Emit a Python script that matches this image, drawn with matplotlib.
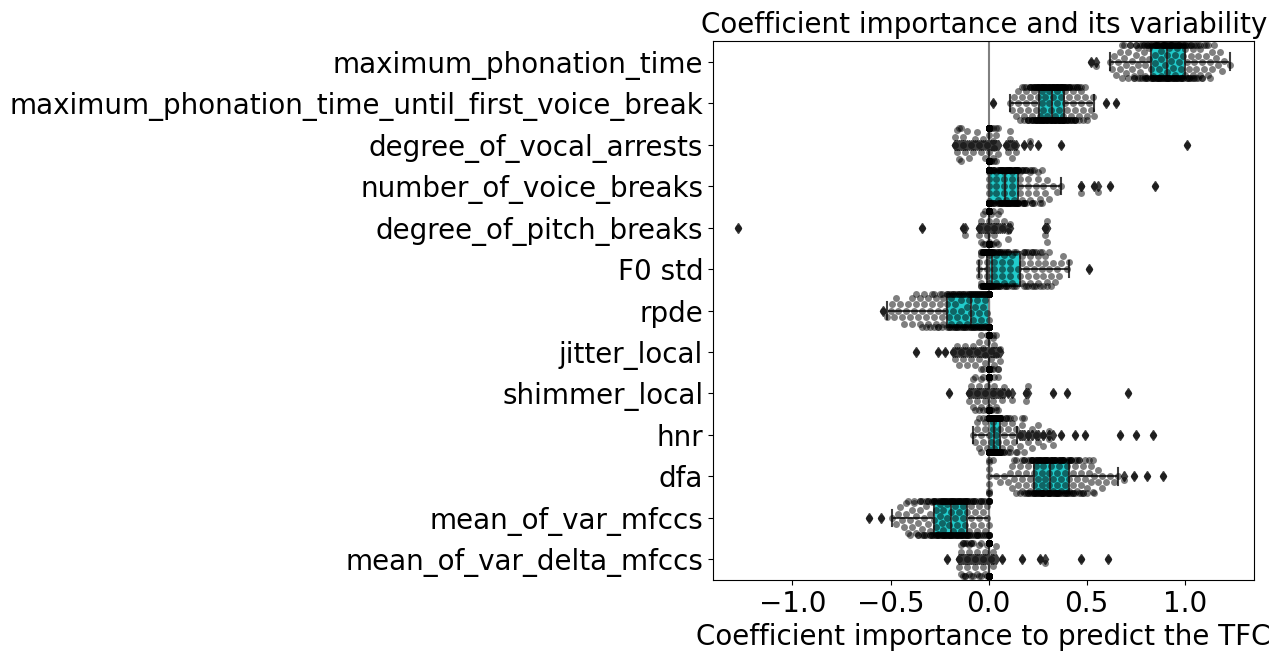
import warnings
import numpy as np
import pandas as pd
import matplotlib
matplotlib.use("Agg")
import matplotlib.pyplot as plt
import seaborn as sns

warnings.filterwarnings("ignore")

features = [
    "maximum_phonation_time",
    "maximum_phonation_time_until_first_voice_break",
    "degree_of_vocal_arrests",
    "number_of_voice_breaks",
    "degree_of_pitch_breaks",
    "F0 std",
    "rpde",
    "jitter_local",
    "shimmer_local",
    "hnr",
    "dfa",
    "mean_of_var_mfccs",
    "mean_of_var_delta_mfccs",
]

# coefficient values over the CV folds, as (value, number of folds)
mpt_vals = [0.52, 0.55, 0.62, 0.63, 0.64, 0.65, 0.66, 0.67, 0.68, 0.69, 0.70, 0.71,
            0.72, 0.73, 0.74, 0.75, 0.76, 0.77, 0.78, 0.79, 0.80, 0.81, 0.82, 0.83,
            0.84, 0.85, 0.86, 0.87, 0.88, 0.89, 0.90, 0.91, 0.92, 0.93, 0.94, 0.95,
            0.96, 0.97, 0.98, 0.99, 1.00, 1.01, 1.02, 1.03, 1.04, 1.05, 1.06, 1.07,
            1.08, 1.09, 1.10, 1.11, 1.12, 1.13, 1.14, 1.15, 1.16, 1.17, 1.18, 1.19,
            1.20, 1.23]
mpt_counts = [1, 1, 1, 1, 1, 1, 1, 2, 2, 2, 2, 2,
              2, 2, 3, 3, 3, 3, 3, 3, 4, 4, 3, 5,
              5, 6, 6, 6, 6, 6, 6, 8, 6, 6, 6, 6,
              6, 5, 5, 5, 4, 4, 4, 4, 3, 3, 3, 3,
              3, 3, 2, 2, 2, 2, 2, 1, 1, 1, 1, 1,
              1, 1]

mptb_vals = [0.02, 0.11, 0.12, 0.13, 0.14, 0.15, 0.16, 0.17, 0.18, 0.19, 0.20, 0.21,
             0.22, 0.23, 0.24, 0.25, 0.26, 0.27, 0.28, 0.29, 0.30, 0.31, 0.32, 0.33,
             0.34, 0.35, 0.36, 0.37, 0.38, 0.39, 0.40, 0.41, 0.42, 0.43, 0.44, 0.45,
             0.46, 0.47, 0.48, 0.49, 0.50, 0.51, 0.52, 0.53, 0.54, 0.60, 0.65]
mptb_counts = [1, 1, 1, 1, 1, 2, 2, 2, 3, 3, 4, 4,
               5, 6, 7, 7, 7, 7, 7, 7, 7, 7, 8, 8,
               8, 8, 8, 8, 10, 6, 5, 5, 4, 4, 5, 3,
               3, 3, 2, 2, 2, 1, 1, 1, 1, 1, 1]

arrests_vals = [-0.17, -0.16, -0.15, -0.14, -0.13, -0.12, -0.11, -0.10, -0.09, -0.08,
                -0.07, -0.06, -0.05, -0.04, -0.03, -0.02, -0.01, 0.0, 0.01, 0.02,
                0.03, 0.04, 0.05, 0.09, 0.10, 0.11, 0.12, 0.13, 0.14, 0.18, 0.21,
                0.25, 0.37, 1.01]
arrests_counts = [2, 2, 2, 2, 2, 1, 1, 1, 1, 1,
                  1, 1, 1, 1, 1, 1, 1, 153, 3, 3,
                  2, 3, 2, 1, 1, 2, 1, 1, 1, 1, 1,
                  1, 1, 1]

vbreaks_vals = [0.0, 0.01, 0.02, 0.03, 0.04, 0.05, 0.06, 0.07, 0.08, 0.09, 0.10,
                0.11, 0.12, 0.13, 0.14, 0.15, 0.16, 0.17, 0.18, 0.19, 0.20, 0.21,
                0.22, 0.23, 0.24, 0.25, 0.26, 0.27, 0.28, 0.29, 0.30, 0.31, 0.33,
                0.35, 0.37, 0.47, 0.54, 0.56, 0.62, 0.85]
vbreaks_counts = [60, 3, 3, 4, 4, 5, 6, 7, 8, 8, 8,
                  8, 7, 7, 7, 8, 4, 4, 4, 3, 3, 3,
                  3, 2, 2, 2, 2, 2, 1, 1, 1, 1, 1,
                  1, 1, 2, 1, 1, 1, 1]

pitch_vals = [-1.28, -0.34, -0.13, -0.12, -0.05, -0.04, -0.03, -0.02, -0.01, 0.0,
              0.01, 0.02, 0.03, 0.04, 0.05, 0.06, 0.07, 0.08, 0.10, 0.11, 0.29, 0.30]
pitch_counts = [1, 1, 1, 1, 2, 2, 2, 2, 2, 166,
                2, 2, 2, 2, 2, 1, 1, 1, 2, 1, 2, 2]

f0_vals = [-0.05, -0.04, -0.03, -0.02, -0.01, 0.0, 0.01, 0.02, 0.03, 0.04, 0.05,
           0.06, 0.07, 0.08, 0.09, 0.10, 0.11, 0.12, 0.13, 0.14, 0.15, 0.16, 0.17,
           0.18, 0.19, 0.20, 0.21, 0.22, 0.23, 0.24, 0.25, 0.26, 0.27, 0.28, 0.29,
           0.30, 0.31, 0.32, 0.33, 0.34, 0.35, 0.36, 0.37, 0.38, 0.40, 0.41, 0.51]
f0_counts = [3, 6, 10, 14, 21, 38, 8, 6, 5, 5, 4,
             4, 4, 4, 3, 3, 3, 3, 2, 2, 1, 1, 3,
             3, 3, 3, 3, 3, 3, 3, 3, 2, 2, 2, 2,
             2, 2, 2, 1, 1, 1, 1, 1, 1, 1, 1, 1]

rpde_vals = [-0.54, -0.52, -0.50, -0.49, -0.48, -0.47, -0.46, -0.45, -0.44, -0.43,
             -0.42, -0.41, -0.40, -0.39, -0.38, -0.37, -0.36, -0.35, -0.34, -0.33,
             -0.32, -0.31, -0.30, -0.29, -0.28, -0.27, -0.26, -0.25, -0.24, -0.23,
             -0.22, -0.21, -0.20, -0.19, -0.18, -0.17, -0.16, -0.15, -0.14, -0.13,
             -0.12, -0.11, -0.10, -0.09, -0.08, -0.07, -0.06, -0.05, -0.04, -0.03,
             -0.02, -0.01, 0.0]
rpde_counts = [1, 1, 1, 1, 1, 1, 1, 1, 1, 1,
               1, 1, 1, 2, 1, 2, 1, 2, 2, 2,
               2, 2, 2, 2, 3, 2, 3, 2, 3, 2,
               1, 4, 4, 4, 4, 4, 4, 4, 4, 4,
               4, 4, 4, 5, 5, 5, 5, 5, 5, 5,
               5, 5, 58]

jitter_vals = [-0.37, -0.26, -0.22, -0.18, -0.17, -0.16, -0.15, -0.14, -0.13, -0.12,
               -0.11, -0.10, -0.09, -0.08, -0.07, -0.06, -0.05, -0.04, -0.03, -0.02,
               -0.01, 0.0, 0.01, 0.02, 0.03, 0.04, 0.05, 0.06]
jitter_counts = [1, 1, 1, 1, 1, 1, 1, 1, 1, 1,
                 1, 1, 1, 1, 1, 1, 2, 2, 2, 2,
                 2, 160, 3, 3, 2, 2, 2, 2]

shimmer_vals = [-0.20, -0.10, -0.09, -0.08, -0.07, -0.06, -0.05, -0.04, -0.03, -0.02,
                -0.01, 0.0, 0.01, 0.02, 0.03, 0.04, 0.05, 0.06, 0.07, 0.08, 0.10,
                0.12, 0.19, 0.20, 0.33, 0.40, 0.71]
shimmer_counts = [1, 2, 1, 2, 2, 2, 2, 2, 2, 2,
                  2, 160, 2, 2, 2, 2, 2, 1, 1, 1, 1,
                  1, 2, 1, 1, 1, 1]

hnr_vals = [-0.08, -0.07, -0.06, -0.05, -0.04, -0.03, -0.02, -0.01, 0.0, 0.01, 0.02,
            0.03, 0.04, 0.05, 0.06, 0.07, 0.08, 0.09, 0.10, 0.11, 0.12, 0.13, 0.14,
            0.145, 0.16, 0.17, 0.18, 0.20, 0.22, 0.24, 0.25, 0.28, 0.31, 0.33, 0.37,
            0.44, 0.49, 0.67, 0.75, 0.84]
hnr_counts = [1, 1, 2, 2, 2, 2, 2, 2, 46, 10, 14,
              22, 16, 16, 15, 3, 4, 3, 3, 3, 2, 2, 2,
              1, 2, 2, 2, 2, 2, 1, 2, 2, 2, 1, 1,
              1, 1, 1, 1, 1]

dfa_vals = [0.0, 0.02, 0.04, 0.06, 0.08, 0.10, 0.11, 0.12, 0.13, 0.14, 0.15, 0.16,
            0.17, 0.18, 0.19, 0.20, 0.21, 0.22, 0.23, 0.24, 0.25, 0.26, 0.27, 0.28,
            0.29, 0.30, 0.31, 0.32, 0.33, 0.34, 0.35, 0.36, 0.37, 0.38, 0.39, 0.40,
            0.41, 0.42, 0.43, 0.44, 0.45, 0.46, 0.47, 0.48, 0.49, 0.50, 0.51, 0.52,
            0.53, 0.54, 0.56, 0.58, 0.60, 0.62, 0.64, 0.66, 0.69, 0.74, 0.81, 0.89]
dfa_counts = [8, 1, 1, 1, 1, 1, 1, 2, 2, 2, 2, 2,
              3, 3, 3, 4, 4, 5, 5, 6, 6, 6, 6, 6,
              6, 6, 7, 6, 6, 6, 6, 6, 5, 5, 4, 4,
              5, 4, 4, 3, 3, 3, 3, 3, 2, 2, 2, 2,
              2, 2, 2, 2, 1, 1, 1, 1, 1, 1, 1, 1]

mfcc_vals = [-0.61, -0.55, -0.49, -0.47, -0.46, -0.45, -0.44, -0.43, -0.42, -0.41,
             -0.40, -0.39, -0.38, -0.37, -0.36, -0.35, -0.34, -0.33, -0.32, -0.31,
             -0.30, -0.29, -0.28, -0.27, -0.26, -0.25, -0.24, -0.23, -0.22, -0.21,
             -0.20, -0.19, -0.18, -0.17, -0.16, -0.15, -0.14, -0.13, -0.12, -0.11,
             -0.10, -0.09, -0.08, -0.07, -0.06, -0.05, -0.04, -0.03, -0.02, -0.01, 0.0]
mfcc_counts = [1, 1, 1, 1, 1, 1, 1, 1, 2, 2,
               2, 2, 2, 2, 3, 3, 3, 3, 3, 3,
               4, 4, 5, 5, 5, 5, 5, 6, 6, 6,
               6, 7, 6, 6, 6, 6, 6, 6, 6, 7,
               4, 4, 4, 4, 4, 4, 4, 3, 3, 3, 12]

dmfcc_vals = [-0.21, -0.15, -0.14, -0.13, -0.12, -0.11, -0.10, -0.09, -0.08, -0.07,
              -0.06, -0.05, -0.04, -0.03, -0.02, -0.01, 0.0, 0.01, 0.02, 0.04, 0.07,
              0.17, 0.26, 0.29, 0.47, 0.61]
dmfcc_counts = [1, 2, 3, 3, 3, 3, 3, 3, 2, 2,
                2, 2, 2, 2, 2, 2, 153, 1, 2, 1, 1,
                1, 1, 1, 1, 1]

pairs = [(mpt_vals, mpt_counts), (mptb_vals, mptb_counts),
         (arrests_vals, arrests_counts), (vbreaks_vals, vbreaks_counts),
         (pitch_vals, pitch_counts), (f0_vals, f0_counts), (rpde_vals, rpde_counts),
         (jitter_vals, jitter_counts), (shimmer_vals, shimmer_counts),
         (hnr_vals, hnr_counts), (dfa_vals, dfa_counts), (mfcc_vals, mfcc_counts),
         (dmfcc_vals, dmfcc_counts)]
coefs = pd.DataFrame({name: pd.Series(np.repeat(v, c), dtype=float)
                      for name, (v, c) in zip(features, pairs)})

plt.rcParams["font.size"] = 20
fig, ax = plt.subplots(figsize=(12.8, 6.6), dpi=100)
fig.subplots_adjust(left=0.557, right=0.98, bottom=0.121, top=0.938)

line_gray = "#3d3d3d"
box_color = (0.13, 0.8, 0.8)

# boxes first, swarm of folds drawn on top
ax.boxplot([coefs[c].dropna().values for c in features],
           positions=np.arange(len(features)), orientation="horizontal",
           widths=0.8, whis=1.5, patch_artist=True, manage_ticks=False,
           boxprops=dict(facecolor=box_color, edgecolor=line_gray, linewidth=1.5),
           medianprops=dict(color=line_gray, linewidth=1.5),
           whiskerprops=dict(color=line_gray, linewidth=1.5),
           capprops=dict(color=line_gray, linewidth=1.5),
           flierprops=dict(marker="d", markerfacecolor=line_gray,
                           markeredgecolor=line_gray, markersize=5))

sns.swarmplot(data=coefs[features], orient="h", color="k", alpha=0.5, size=5, ax=ax)
ax.axvline(x=0, color=".5")

ax.set_title("Coefficient importance and its variability", fontsize=20)
ax.set_xlabel("Coefficient importance to predict the TFC")

fig.savefig("out.png", dpi=100)
